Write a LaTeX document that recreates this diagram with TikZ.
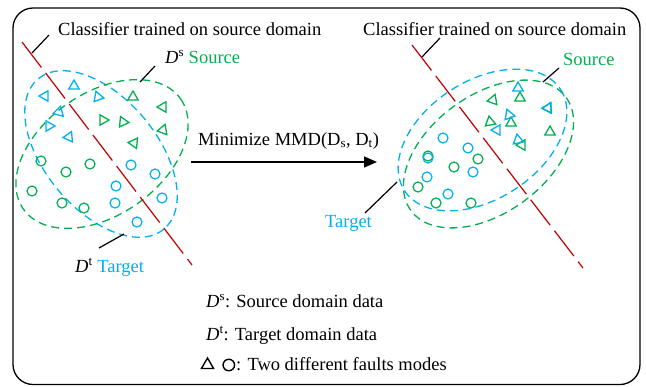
\documentclass[tikz,border=0pt]{standalone}
\usepackage{fontspec}
\setmainfont{Liberation Serif}
\usetikzlibrary{arrows.meta,positioning,shapes.geometric}
\definecolor{srcgreen}{RGB}{0,176,80}
\definecolor{tgtblue}{RGB}{0,176,240}
\definecolor{clsred}{RGB}{192,0,0}

\begin{document}
\begin{tikzpicture}[x=1pt, y=-1pt, font=\fontsize{18.5}{22}\selectfont,
  txt/.style={inner sep=0pt, anchor=base west},
  ptr/.style={line width=1.2pt},
  setline/.style={draw=#1, line width=1.3pt, dash pattern=on 8pt off 5pt},
  boundary/.style={draw=clsred, line width=1.2pt, dash pattern=on 32pt off 7pt},
  tri/.style={draw=#1, regular polygon, regular polygon sides=3, minimum size=12pt, inner sep=0pt, line width=1.3pt},
  dot/.style={draw=#1, circle, minimum size=10pt, inner sep=0pt, line width=1.2pt},
  >={Triangle[length=13pt, width=11pt]}]
\useasboundingbox (0,0) rectangle (646,386);
\draw[line width=1.3pt, rounded corners=20pt] (13,8) rectangle (640,384.5);

% before adaptation
\draw[setline=tgtblue, rotate around={-50:(101,154)}] (101,154) ellipse [x radius=98, y radius=56];
\draw[setline=srcgreen, rotate around={35:(102,154)}] (102,154) ellipse [x radius=96, y radius=61];
\foreach \x/\y/\ang [count=\i] in {74/86/0, 45/96/-30, 98/97/20, 59/112/-15, 49/126/30, 69/137/-25}
  \node[tri=tgtblue, rotate=\ang] (ltb\i) at (\x,\y) {};
\foreach \x/\y/\ang [count=\i] in {133/97/0, 163/107/-30, 103/120/30, 123/122/25, 163/130/-20, 134/143/-35}
  \node[tri=srcgreen, rotate=\ang] (ltg\i) at (\x,\y) {};
\foreach \x/\y [count=\i] in {41/161, 90/164, 66/172, 32/191, 62/203, 84/208}
  \node[dot=srcgreen] (lcg\i) at (\x,\y) {};
\foreach \x/\y [count=\i] in {131/165, 155/174, 116/186, 162/198, 115/203, 137/222}
  \node[dot=tgtblue] (lcb\i) at (\x,\y) {};
\coordinate (lbnda) at (22,42);
\coordinate (lbndb) at (192,265);
\draw[boundary] (lbnda) -- (lbndb);

\node[txt] (clsl) at (58,35) {Classifier trained on source domain};
\node[txt] (srcl) at (165,63) {\textit{D}\textsuperscript{s} \textcolor{srcgreen}{Source}};
\node[txt] (tgtl) at (75,272) {\textit{D}\textsuperscript{t} \textcolor{tgtblue}{Target}};
\coordinate (pcla) at (32,53);  \coordinate (pclb) at (49,35);
\coordinate (psla) at (140,82); \coordinate (pslb) at (155,66);
\coordinate (ptla) at (124,234); \coordinate (ptlb) at (99,248);
\draw[ptr] (pcla) -- (pclb);
\draw[ptr] (psla) -- (pslb);
\draw[ptr] (ptla) -- (ptlb);

% adaptation step
\node[txt] (mmd) at (198,145) {Minimize MMD(D\textsubscript{s}, D\textsubscript{t})};
\coordinate (arra) at (191,162);
\coordinate (arrb) at (377,162);
\draw[->, line width=1.5pt] (arra) -- (arrb);

% after adaptation
\draw[setline=tgtblue, rotate around={33:(482.5,140)}] (482.5,140) ellipse [x radius=93, y radius=59];
\draw[setline=srcgreen, rotate around={36:(488.5,154)}] (488.5,154) ellipse [x radius=96, y radius=59];
\foreach \x/\y/\ang [count=\i] in {520/98/0, 493/100/-20, 490/122/10, 511/123/0, 548/108/-25, 550/132/0, 522/145/-30}
  \node[tri=srcgreen, rotate=\ang] (rtg\i) at (\x,\y) {};
\foreach \x/\y/\ang [count=\i] in {518/88/0, 509/115/20, 497/130/-30, 548/108/-30, 518/140/10}
  \node[tri=tgtblue, rotate=\ang] (rtb\i) at (\x,\y) {};
\foreach \x/\y [count=\i] in {428/156, 478/159, 454/167, 418/187, 436/203, 471/203}
  \node[dot=srcgreen] (rcg\i) at (\x,\y) {};
\foreach \x/\y [count=\i] in {443/138, 468/148, 428/158, 473/172, 427/177, 448/194}
  \node[dot=tgtblue] (rcb\i) at (\x,\y) {};
\coordinate (rbnda) at (412,45);
\coordinate (rbndb) at (583,268);
\draw[boundary] (rbnda) -- (rbndb);

\node[txt] (clsr) at (363,35) {Classifier trained on source domain};
\node[txt, text=srcgreen] (srcr) at (563,65) {Source};
\node[txt, text=tgtblue] (tgtr) at (325,227) {Target};
\coordinate (pcra) at (422,57);  \coordinate (pcrb) at (440,38);
\coordinate (psra) at (543,82);  \coordinate (psrb) at (559,68);
\coordinate (ptra) at (397,182); \coordinate (ptrb) at (365,213);
\draw[ptr] (pcra) -- (pcrb);
\draw[ptr] (psra) -- (psrb);
\draw[ptr] (ptra) -- (ptrb);

% legend
\node[txt] (legs) at (206,307) {\textit{D}\textsuperscript{s}: Source domain data};
\node[txt, below=33pt of legs.base west, anchor=base west] (legt) {\textit{D}\textsuperscript{t}: Target domain data};
\node[tri=black, minimum size=14pt, line width=1.4pt] (legtri) at (207.5,365) {};
\node[dot=black, minimum size=11.5pt, line width=1.4pt, right=10pt of legtri] (legdot) {};
\node[txt] (legf) at (236,370) {: Two different faults modes};
\end{tikzpicture}
\end{document}
